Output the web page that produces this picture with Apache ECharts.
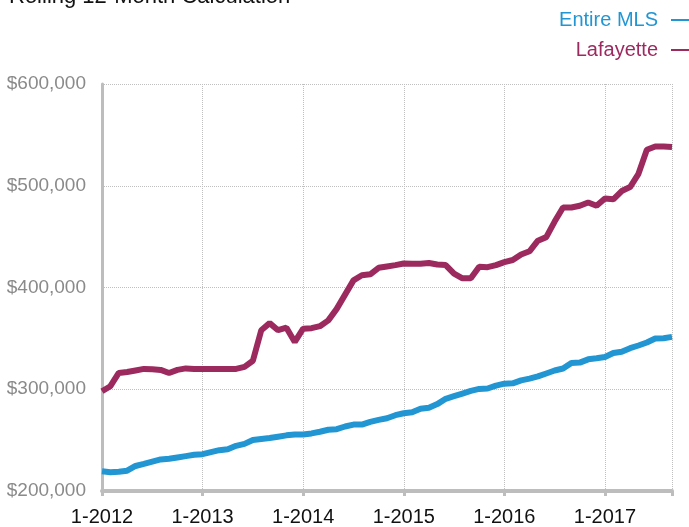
<!DOCTYPE html>
<html>
<head>
<meta charset="utf-8">
<script src="https://cdn.jsdelivr.net/npm/echarts@6/dist/echarts.min.js"></script>
<style>
  html, body { margin: 0; padding: 0; background: #fff; }
  #chart { width: 689px; height: 527px; }
</style>
</head>
<body>
<div id="chart"></div>
<script>
// 月份类别：1-2012 到 9-2017
const months = [];
for (let y = 2012; y <= 2017; y++) {
    for (let m = 1; m <= 12; m++) {
        if (y === 2017 && m > 9) break;
        months.push(m + '-' + y);
    }
}

// 滚动12个月中位价
const entireMls = [
    219400, 218400, 219000, 220000, 224600, 226600, 228800, 231000, 231700, 233000,
    234300, 235600, 236200, 238200, 240100, 241000, 244400, 246300, 250200, 251200,
    252100, 253400, 254700, 255600, 255600, 256600, 258200, 260200, 260800, 263400,
    265300, 265300, 268000, 269900, 271500, 274500, 276400, 277400, 280900, 281900,
    285400, 290600, 293200, 295800, 298400, 300300, 300700, 303600, 305500, 305800,
    308700, 310400, 312600, 315500, 318400, 320400, 325900, 326200, 329400, 330400,
    331700, 335600, 336900, 340400, 343000, 346000, 349900, 350200, 351500
];

const lafayette = [
    298000, 303000, 316000, 317000, 318500, 320000, 319700, 319000, 316000, 319000,
    320500, 320000, 320000, 320000, 320000, 320000, 320000, 322000, 328000, 358000,
    365000, 358000, 360500, 346500, 359500, 360000, 362000, 367700, 379000, 393000,
    407000, 412000, 413000, 419400, 420700, 422000, 423600, 423300, 423300, 424000,
    422600, 422000, 413600, 409000, 409000, 420500, 420000, 422000, 425000, 427000,
    432400, 435600, 446000, 449500, 464800, 478600, 478600, 480300, 483500, 480300,
    487400, 486700, 494800, 498700, 511700, 535300, 538600, 538600, 538200
];

const yTicks = [200000, 300000, 400000, 500000, 600000];

const FONT = "'Liberation Sans', Arial, sans-serif";
const BLUE = '#2196d3';
const PLUM = '#9c2a5f';

// 一月份和最后一个点显示刻度/网格线
const isJan = (i) => i % 12 === 0;
const isMark = (i) => i % 12 === 0 || i === months.length - 1;

const chart = echarts.init(document.getElementById('chart'));

const option = {
    animation: false,
    title: {
        text: 'Rolling 12-Month Calculation',
        left: 9,
        top: -14,
        padding: 0,
        textStyle: {
            fontFamily: FONT,
            fontSize: 22,
            fontWeight: 'normal',
            color: '#111'
        }
    },
    legend: {
        orient: 'vertical',
        right: 0,
        top: 10,
        padding: 0,
        align: 'right',
        itemGap: 10,
        itemWidth: 18,
        itemHeight: 2,
        icon: 'rect',
        textStyle: {
            fontFamily: FONT,
            fontSize: 20,
            padding: [0, 8, 0, 0]
        },
        data: [
            { name: 'Entire MLS', textStyle: { color: BLUE } },
            { name: 'Lafayette', textStyle: { color: PLUM } }
        ]
    },
    grid: {
        left: 102,
        right: 17,
        top: 84,
        bottom: 31
    },
    xAxis: {
        type: 'category',
        data: months,
        boundaryGap: false,
        axisLine: { lineStyle: { color: '#bdbdbd', width: 4 } },
        axisTick: {
            show: true,
            interval: (i) => isMark(i),
            length: 5,
            lineStyle: { color: '#bdbdbd', width: 3 }
        },
        axisLabel: {
            interval: (i) => isJan(i),
            margin: 16,
            fontFamily: FONT,
            fontSize: 20,
            color: '#111'
        },
        splitLine: {
            show: true,
            interval: (i) => isMark(i) && i !== 0,
            lineStyle: { color: '#bfbfbf', type: 'dotted', width: 1 }
        }
    },
    yAxis: {
        type: 'value',
        min: yTicks[0],
        max: yTicks[yTicks.length - 1],
        interval: 100000,
        axisLine: { show: true, lineStyle: { color: '#bdbdbd', width: 3 } },
        axisTick: { show: false },
        axisLabel: {
            margin: 16,
            fontFamily: FONT,
            fontSize: 19,
            color: '#8a8a8a',
            formatter: (v) => '$' + v.toLocaleString('en-US')
        },
        splitLine: {
            show: true,
            lineStyle: { color: '#bfbfbf', type: 'dotted', width: 1 }
        }
    },
    series: [
        {
            name: 'Entire MLS',
            type: 'line',
            data: entireMls,
            symbol: 'none',
            color: BLUE,
            lineStyle: { width: 6, color: BLUE }
        },
        {
            name: 'Lafayette',
            type: 'line',
            data: lafayette,
            symbol: 'none',
            color: PLUM,
            lineStyle: { width: 6, color: PLUM }
        }
    ]
};

chart.setOption(option);
</script>
</body>
</html>
